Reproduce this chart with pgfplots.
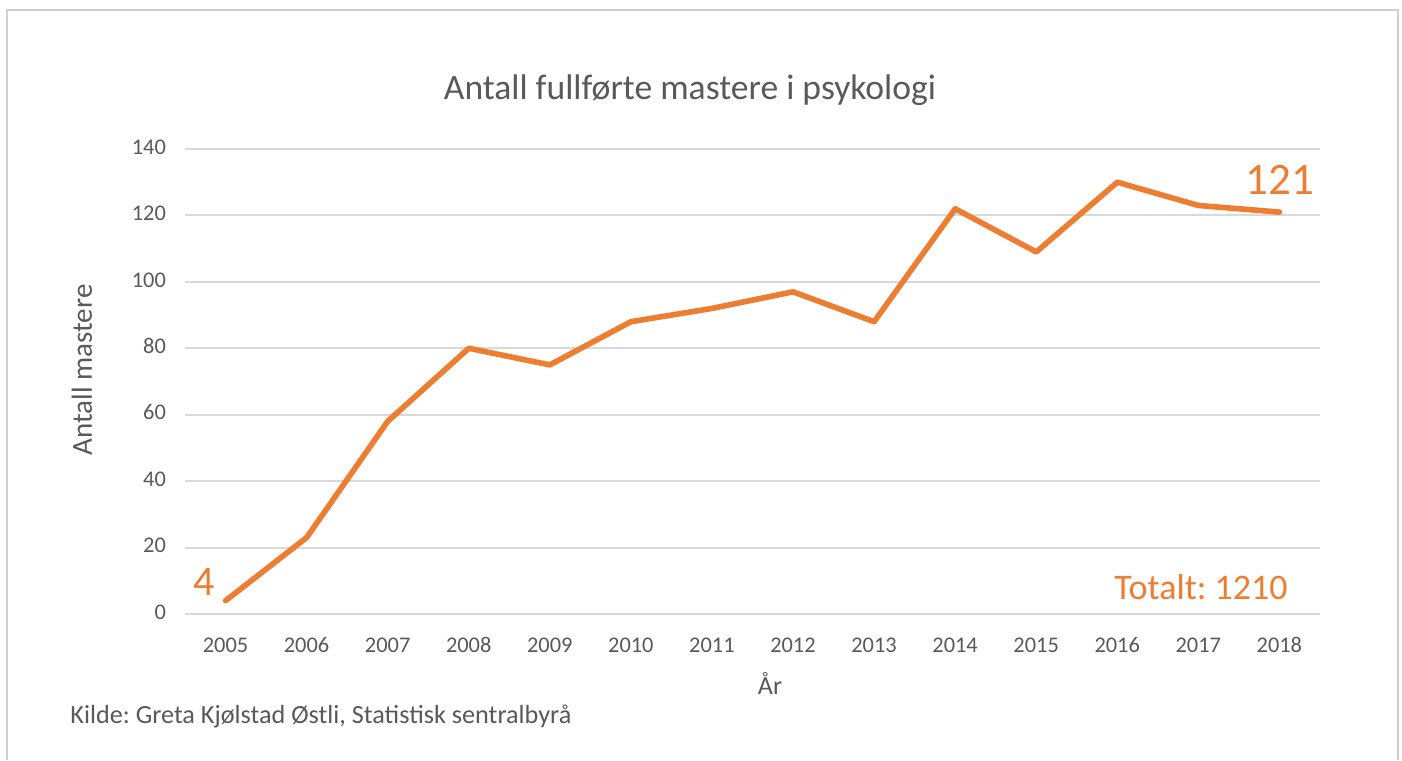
\documentclass[border=0pt]{standalone}
\usepackage{pgfplots}
\pgfplotsset{compat=1.18}
\usepackage{fontspec}
\setmainfont{Carlito}
\frenchspacing
\definecolor{txt}{HTML}{595959}
\definecolor{grd}{HTML}{D9D9D9}
\definecolor{org}{HTML}{ED7D31}
\definecolor{frm}{HTML}{D0D0D0}
\begin{document}
\begin{tikzpicture}
\path[use as bounding box] (0pt,0pt) rectangle (701pt,380pt);
\draw[frm, line width=1pt] (3.5pt,0pt) -- (3.5pt,375pt) -- (699pt,375pt) -- (699pt,0pt);
\begin{axis}[
  at={(92.5pt,73pt)}, anchor=south west,
  scale only axis, width=567.5pt, height=232.5pt,
  xmin=2004.5, xmax=2018.5, ymin=0, ymax=140,
  xtick={2005,...,2018}, ytick={0,20,...,140},
  /pgf/number format/assume math mode=true,
  typeset ticklabels with strut,
  xticklabel style={/pgf/number format/1000 sep={}, font=\fontsize{11.2}{13}\selectfont, text=txt, yshift=-6.5pt},
  yticklabel style={font=\fontsize{11.2}{13}\selectfont, text=txt, xshift=-6pt},
  tick style={draw=none},
  axis line style={draw=none},
  ymajorgrids, grid style={grd, line width=1pt},
  clip=false,
]
\addplot[org, line width=2.8pt, line join=round, line cap=round] coordinates {
(2005,4) (2006,23) (2007,58) (2008,80) (2009,75) (2010,88) (2011,92)
(2012,97) (2013,88) (2014,122) (2015,109) (2016,130) (2017,123) (2018,121)
};
\end{axis}
\node[text=txt, font=\fontsize{17.8}{20}\selectfont] at (345pt,335pt) {Antall fullførte mastere i psykologi};
\node[text=txt, font=\fontsize{14.5}{16}\selectfont, rotate=90] at (41pt,195pt) {Antall mastere};
\node[text=txt, font=\fontsize{13}{15}\selectfont] at (385pt,38pt) {År};
\node[text=txt, font=\fontsize{13.1}{15}\selectfont, anchor=west, inner sep=0pt] at (35pt,22pt) {Kilde: Greta Kjølstad Østli, Statistisk sentralbyrå};
\node[text=org, font=\fontsize{21}{24}\selectfont] at (102pt,89pt) {4};
\node[text=org, font=\fontsize{22.5}{26}\selectfont] at (640pt,290pt) {121};
\node[text=org, font=\fontsize{18}{20}\selectfont] at (600.5pt,86.5pt) {Totalt: 1210};
\end{tikzpicture}
\end{document}
